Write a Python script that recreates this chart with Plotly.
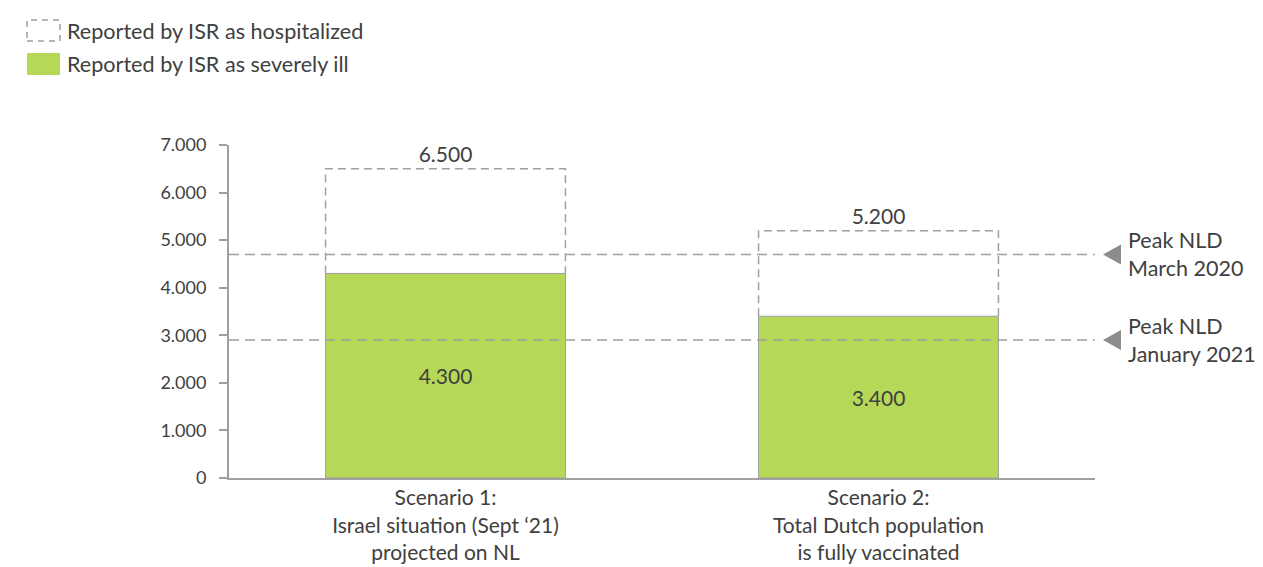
import plotly.graph_objects as go

# Data
scenarios = [
    "Scenario 1:<br>Israel situation (Sept ‘21)<br>projected on NL",
    "Scenario 2:<br>Total Dutch population<br>is fully vaccinated",
]
hospitalized = [6500, 5200]
severely_ill = [4300, 3400]
peak_labels = ["Peak NLD<br>March 2020", "Peak NLD<br>January 2021"]
peak_values = [4700, 2900]
legend_labels = ["Reported by ISR as hospitalized", "Reported by ISR as severely ill"]

# Styling
W, H = 1263, 567
M_L, M_R, M_T, M_B = 229, 168, 145, 89
FONT = "Lato"
FS = 21
TEXT = "#404040"
GREY = "#a0a0a0"
GREEN = "#b5d957"
BAR_W = 0.554
x_pos = list(range(len(scenarios)))

def px_x(p):
    return (p - M_L) / (W - M_L - M_R)

def px_y(p):
    return 1 - (p - M_T) / (H - M_T - M_B)

fig = go.Figure()

# Hospitalized (white body, dashed outline drawn separately)
fig.add_trace(go.Bar(
    x=x_pos, y=hospitalized, width=BAR_W,
    marker=dict(color="white", line=dict(width=0)),
    texttemplate="%{y:,}", textposition="outside",
    textfont=dict(family=FONT, size=FS, color=TEXT),
    cliponaxis=False, showlegend=False, hoverinfo="skip",
))

# Severely ill
fig.add_trace(go.Bar(
    x=x_pos, y=severely_ill, width=BAR_W,
    marker=dict(color=GREEN, line=dict(color=GREY, width=1)),
    texttemplate="%{y:,}", textposition="inside", insidetextanchor="middle",
    insidetextfont=dict(family=FONT, size=FS, color=TEXT),
    showlegend=False, hoverinfo="skip",
))

# Dashed outlines of the hospitalized bars
for xi, h, s in zip(x_pos, hospitalized, severely_ill):
    fig.add_trace(go.Scatter(
        x=[xi - BAR_W / 2, xi - BAR_W / 2, xi + BAR_W / 2, xi + BAR_W / 2],
        y=[s, h, h, s], mode="lines",
        line=dict(color=GREY, width=1.5, dash="8px,5px"),
        showlegend=False, hoverinfo="skip",
    ))

# Reference peaks: dashed line, pointer triangle and label
for lbl, v in zip(peak_labels, peak_values):
    fig.add_trace(go.Scatter(
        x=[-0.5, 1.5], y=[v, v], mode="lines",
        line=dict(color=GREY, width=1.5, dash="10px,6px"),
        showlegend=False, hoverinfo="skip",
    ))
    fig.add_shape(
        type="path", xref="paper", yref="y",
        xsizemode="pixel", ysizemode="pixel",
        xanchor=px_x(1112), yanchor=v,
        path="M 9,-10 L 9,10 L -9,0 Z",
        fillcolor="#8c8c8c", line=dict(width=0),
    )
    fig.add_annotation(
        x=px_x(1126), y=v, xref="paper", yref="y", text=lbl, showarrow=False,
        xanchor="left", yanchor="middle", align="left",
        font=dict(family=FONT, size=21.5, color=TEXT),
    )

# Custom legend
fig.add_shape(type="rect", xref="paper", yref="paper",
              x0=px_x(27), x1=px_x(60), y0=px_y(41), y1=px_y(20),
              line=dict(color=GREY, width=1.5, dash="6px,5px"), fillcolor="white")
fig.add_shape(type="rect", xref="paper", yref="paper",
              x0=px_x(27), x1=px_x(60), y0=px_y(75), y1=px_y(53),
              line=dict(width=0), fillcolor=GREEN)
for lbl, yc in zip(legend_labels, [31, 64]):
    fig.add_annotation(
        x=px_x(65), y=px_y(yc), xref="paper", yref="paper", text=lbl,
        showarrow=False, xanchor="left", yanchor="middle",
        font=dict(family=FONT, size=21.6, color=TEXT),
    )

fig.update_layout(
    width=W, height=H,
    margin=dict(l=M_L, r=M_R, t=M_T, b=M_B),
    paper_bgcolor="white", plot_bgcolor="white",
    barmode="overlay", separators=",.",
    font=dict(family=FONT, size=FS, color=TEXT),
    showlegend=False,
)
fig.update_xaxes(
    range=[-0.5, 1.5], tickvals=x_pos, ticktext=scenarios,
    showline=True, linecolor=GREY, linewidth=2, ticks="",
    showgrid=False, zeroline=False, automargin=False,
    tickfont=dict(family=FONT, size=FS, color=TEXT),
)
fig.update_yaxes(
    range=[0, 7000], dtick=1000, tickformat=",d",
    showline=True, linecolor=GREY, linewidth=2,
    ticks="outside", ticklen=8, tickcolor=GREY, tickwidth=2,
    ticklabelstandoff=9, automargin=False,
    showgrid=False, zeroline=False,
    tickfont=dict(family=FONT, size=18, color=TEXT),
)

fig.write_html("out.html")
